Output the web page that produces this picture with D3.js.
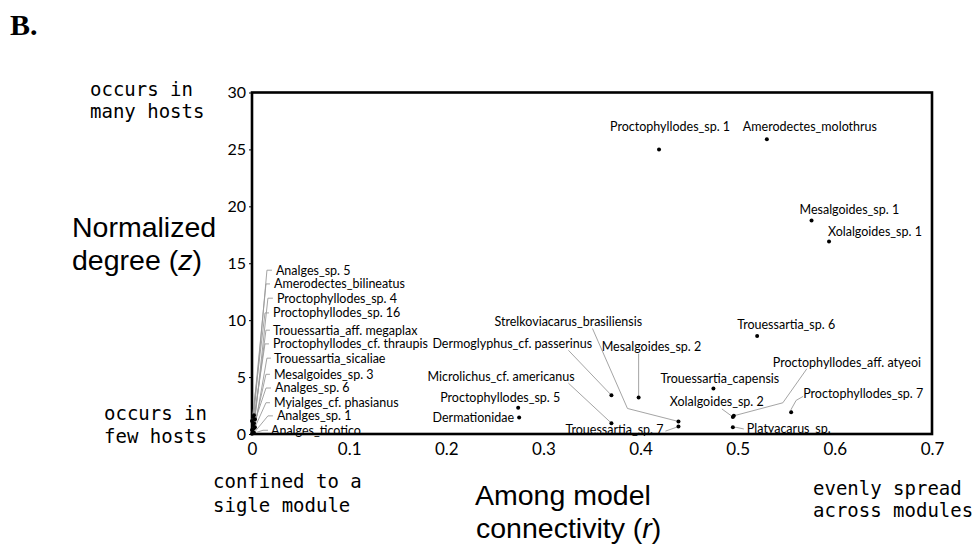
<!DOCTYPE html>
<html>
<head>
<meta charset="utf-8">
<script src="https://cdn.jsdelivr.net/npm/d3@7"></script>
<style>
  body { margin: 0; background: #fff; }
  .tick text { font-family: Lato, "Open Sans", sans-serif; fill: #000; }
  .sp-label { font-family: Lato, "Open Sans", sans-serif; font-size: 12.5px; fill: #000; }
  .mono { font-family: "DejaVu Sans Mono", monospace; font-size: 19px; fill: #000; }
  .title { font-family: "Liberation Sans", Arial, sans-serif; font-size: 28.5px; fill: #000; }
  .leader { fill: none; stroke: #9a9a9a; stroke-width: 0.9; }
</style>
</head>
<body>
<svg id="chart"></svg>
<script>
// species, among-module connectivity (r) and normalized degree (z)
var species = [
  'Proctophyllodes_sp. 1', 'Amerodectes_molothrus', 'Mesalgoides_sp. 1', 'Xolalgoides_sp. 1',
  'Trouessartia_sp. 6', 'Strelkoviacarus_brasiliensis', 'Dermoglyphus_cf. passerinus', 'Mesalgoides_sp. 2',
  'Microlichus_cf. americanus', 'Proctophyllodes_sp. 5', 'Dermationidae', 'Trouessartia_sp. 7',
  'Trouessartia_capensis', 'Xolalgoides_sp. 2', 'Proctophyllodes_aff. atyeoi', 'Platyacarus_sp.',
  'Proctophyllodes_sp. 7',
  'Analges_sp. 5', 'Amerodectes_bilineatus', 'Proctophyllodes_sp. 4', 'Proctophyllodes_sp. 16',
  'Trouessartia_aff. megaplax', 'Proctophyllodes_cf. thraupis', 'Trouessartia_sicaliae', 'Mesalgoides_sp. 3',
  'Analges_sp. 6', 'Myialges_cf. phasianus', 'Analges_sp. 1', 'Analges_ticotico'
];
var rValues = [
  0.419, 0.530, 0.576, 0.594,
  0.520, 0.439, 0.370, 0.398,
  0.370, 0.274, 0.275, 0.439,
  0.475, 0.495, 0.496, 0.495,
  0.555,
  0.002, 0.001, 0.003, 0.000,
  0.002, 0.001, 0.003, 0.002,
  0.000, 0.001, 0.002, 0.000
];
var zValues = [
  25.0, 25.9, 18.75, 16.9,
  8.6, 1.1, 3.4, 3.2,
  0.95, 2.3, 1.45, 0.65,
  4.0, 1.5, 1.6, 0.6,
  1.9,
  1.65, 1.5, 1.3, 1.15,
  0.95, 0.8, 0.6, 0.5,
  0.35, 0.2, 0.1, 0.02
];
var xTicks = [0, 0.1, 0.2, 0.3, 0.4, 0.5, 0.6, 0.7];
var yTicks = [0, 5, 10, 15, 20, 25, 30];

// label placement, px offsets from the point: [dx, dy, anchor, leader bends]
var labelLayout = {
  'Proctophyllodes_sp. 1': [-49, -23, 'start'],
  'Amerodectes_molothrus': [-24, -13, 'start'],
  'Mesalgoides_sp. 1': [-12, -11, 'start'],
  'Xolalgoides_sp. 1': [-1, -10, 'start'],
  'Trouessartia_sp. 6': [-20, -11, 'start'],
  'Strelkoviacarus_brasiliensis': [-184, -100, 'start', [[-86, -93], [-51, -13]]],
  'Dermoglyphus_cf. passerinus': [-179, -52, 'start', [[-43, -45]]],
  'Mesalgoides_sp. 2': [-37, -51, 'start', [[0, -44]]],
  'Microlichus_cf. americanus': [-184, -47, 'start', [[-43, -40]]],
  'Proctophyllodes_sp. 5': [-78, -10, 'start'],
  'Dermationidae': [-5, 0.5, 'end'],
  'Trouessartia_sp. 7': [-15, 3.5, 'end', [[-13, 4.5]]],
  'Trouessartia_capensis': [-53, -9.5, 'start'],
  'Xolalgoides_sp. 2': [-63, -15, 'start', [[-11, -8]]],
  'Proctophyllodes_aff. atyeoi': [39, -53, 'start', [[73, -47], [49, -13]]],
  'Platyacarus_sp.': [14, 1.8, 'start', [[11, 1.8], [4, 0.3]]],
  'Proctophyllodes_sp. 7': [12, -19, 'start', [[12, -16], [5, -12], [0, -3]]],
  'Analges_sp. 5': [22, -145, 'start', [[18, -145], [13, -145]]],
  'Amerodectes_bilineatus': [21, -133, 'start', [[17, -133], [13, -133]]],
  'Proctophyllodes_sp. 4': [22, -121, 'start', [[18, -121], [13, -121]]],
  'Proctophyllodes_sp. 16': [21, -108, 'start', [[17, -108], [13, -108]]],
  'Trouessartia_aff. megaplax': [19, -93, 'start', [[16, -93], [12, -93]]],
  'Proctophyllodes_cf. thraupis': [20, -81, 'start', [[16, -81], [12, -81]]],
  'Trouessartia_sicaliae': [19, -69, 'start', [[16, -69], [12, -69]]],
  'Mesalgoides_sp. 3': [20, -54, 'start', [[16, -54], [12, -54]]],
  'Analges_sp. 6': [23, -42, 'start', [[19, -42], [14, -42]]],
  'Myialges_cf. phasianus': [21, -29, 'start', [[17, -29], [13, -29]]],
  'Analges_sp. 1': [23, -17, 'start', [[19, -17], [14, -17]]],
  'Analges_ticotico': [19, -3.5, 'start', [[16, -3.5], [11, -3.5]]]
};

var width = 975, height = 548;
var plot = { left: 252, right: 932, top: 92.5, bottom: 434 };

var svg = d3.select('#chart')
  .attr('width', width)
  .attr('height', height);

var x = d3.scaleLinear().domain([0, 0.7]).range([plot.left, plot.right]);
var y = d3.scaleLinear().domain([0, 30]).range([plot.bottom, plot.top]);

var points = species.map(function(name, i) {
  return { name: name, r: rValues[i], z: zValues[i], layout: labelLayout[name] };
});

// axes
svg.append('g')
  .attr('transform', 'translate(' + plot.left + ',0)')
  .call(d3.axisLeft(y).tickValues(yTicks).tickSize(3).tickSizeOuter(0).tickPadding(3))
  .call(function(g) {
    g.select('.domain').remove();
    g.selectAll('.tick line').attr('stroke', '#000');
    g.selectAll('.tick text').style('font-size', '16px');
  });

svg.append('g')
  .attr('transform', 'translate(0,' + plot.bottom + ')')
  .call(d3.axisBottom(x).tickValues(xTicks).tickSize(0).tickSizeOuter(0).tickPadding(9)
    .tickFormat(function(d) { return d === 0 ? '0' : d3.format('.1f')(d); }))
  .call(function(g) {
    g.select('.domain').remove();
    g.selectAll('.tick text').style('font-size', '17px');
  });

// frame
svg.append('rect')
  .attr('x', x(0))
  .attr('y', y(30))
  .attr('width', x(0.7) - x(0))
  .attr('height', y(0) - y(30))
  .attr('fill', 'none')
  .attr('stroke', '#000')
  .attr('stroke-width', 2.6);

// leader lines
var line = d3.line();
svg.append('g').selectAll('path.leader')
  .data(points.filter(function(d) { return d.layout[3]; }))
  .enter().append('path')
    .attr('class', 'leader')
    .attr('d', function(d) {
      var px = x(d.r), py = y(d.z);
      var pts = d.layout[3].map(function(p) { return [px + p[0], py + p[1]]; });
      pts.push([px, py]);
      return line(pts);
    });

// points
svg.append('g').selectAll('circle')
  .data(points)
  .enter().append('circle')
    .attr('cx', function(d) { return x(d.r); })
    .attr('cy', function(d) { return y(d.z); })
    .attr('r', 2)
    .attr('fill', '#000');

// species labels
svg.append('g').selectAll('text')
  .data(points)
  .enter().append('text')
    .attr('class', 'sp-label')
    .attr('x', function(d) { return x(d.r) + d.layout[0]; })
    .attr('y', function(d) { return y(d.z) + d.layout[1]; })
    .attr('dy', '0.35em')
    .attr('text-anchor', function(d) { return d.layout[2]; })
    .text(function(d) { return d.name; });

// panel letter
svg.append('text')
  .attr('x', 10).attr('y', 35)
  .style('font-family', '"Liberation Serif", "Times New Roman", serif')
  .style('font-weight', 'bold')
  .style('font-size', '30px')
  .text('B.');

// axis annotations
var notes = [
  ['occurs in', 90, 96], ['many hosts', 90, 118],
  ['occurs in', 104, 420], ['few hosts', 104, 443],
  ['confined to a', 213, 488], ['sigle module', 213, 512],
  ['evenly spread', 813, 495], ['across modules', 813, 517]
];
svg.append('g').selectAll('text')
  .data(notes)
  .enter().append('text')
    .attr('class', 'mono')
    .attr('x', function(d) { return d[1]; })
    .attr('y', function(d) { return d[2]; })
    .text(function(d) { return d[0]; });

// axis titles
var yt = svg.append('text').attr('class', 'title').attr('x', 72).attr('y', 237);
yt.append('tspan').text('Normalized');
var yt2 = svg.append('text').attr('class', 'title').attr('x', 72).attr('y', 270);
yt2.append('tspan').text('degree (');
yt2.append('tspan').style('font-style', 'italic').text('z');
yt2.append('tspan').text(')');

svg.append('text').attr('class', 'title')
  .attr('x', 475).attr('y', 505)
  .text('Among model');
var xt2 = svg.append('text').attr('class', 'title')
  .attr('x', 476).attr('y', 538);
xt2.append('tspan').text('connectivity (');
xt2.append('tspan').style('font-style', 'italic').text('r');
xt2.append('tspan').text(')');
</script>
</body>
</html>
